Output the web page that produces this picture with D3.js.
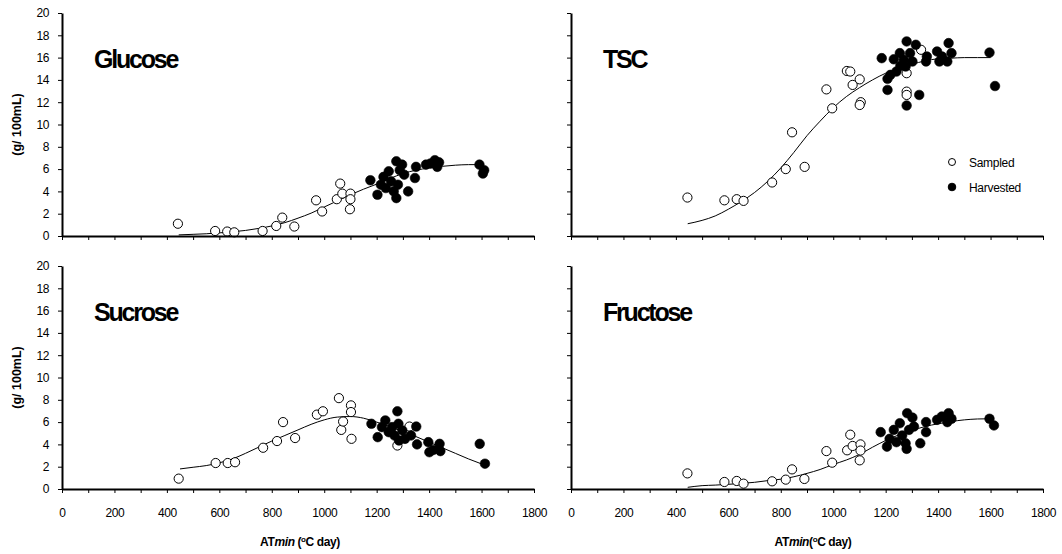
<!DOCTYPE html>
<html>
<head>
<meta charset="utf-8">
<script src="https://cdn.jsdelivr.net/npm/d3@7"></script>
<style>
  body { margin: 0; background: #fff; }
  svg { display: block; font-family: "Liberation Sans", Arial, sans-serif; }
</style>
</head>
<body>
<div id="chart"></div>
<script>
// x ticks every 100, labels every 200
var xTickValues = [0, 100, 200, 300, 400, 500, 600, 700, 800, 900, 1000, 1100, 1200, 1300, 1400, 1500, 1600, 1700, 1800];
var xTickLabels = [0, 200, 400, 600, 800, 1000, 1200, 1400, 1600, 1800];
var yTickLabels = [0, 2, 4, 6, 8, 10, 12, 14, 16, 18, 20];

var seriesNames = ["Sampled", "Harvested"];

// Glucose
var glucoseSampled = [[442, 1.1], [584, 0.45], [630, 0.4], [657, 0.33], [765, 0.45], [817, 0.9], [840, 1.65], [886, 0.85],
    [969, 3.2], [992, 2.2], [1048, 3.3], [1061, 4.7], [1069, 3.8], [1100, 3.8], [1098, 2.4], [1100, 3.3]];
var glucoseHarvested = [[1176, 5.0], [1203, 3.7], [1216, 4.6], [1226, 5.3], [1235, 4.3], [1246, 5.8], [1255, 4.9], [1265, 4.0],
    [1275, 6.7], [1275, 3.4], [1281, 4.6], [1288, 5.9], [1297, 6.4], [1305, 5.5], [1320, 4.0], [1346, 5.2], [1350, 6.2],
    [1388, 6.4], [1405, 6.5], [1422, 6.8], [1431, 6.2], [1438, 6.6], [1592, 6.4], [1605, 5.6], [1610, 5.9]];
var glucoseFit = [[445, 0.1], [500, 0.15], [550, 0.2], [600, 0.28], [650, 0.38], [700, 0.5], [750, 0.68], [800, 0.9],
    [850, 1.2], [900, 1.6], [950, 2.05], [1000, 2.6], [1050, 3.15], [1100, 3.7], [1150, 4.2], [1200, 4.65], [1250, 5.15],
    [1300, 5.6], [1350, 5.9], [1400, 6.1], [1450, 6.25], [1500, 6.35], [1550, 6.4], [1600, 6.4]];

// TSC
var tscSampled = [[444, 3.45], [585, 3.2], [632, 3.3], [658, 3.15], [767, 4.8], [819, 6.0], [843, 9.3], [891, 6.2],
    [974, 13.15], [996, 11.45], [1052, 14.8], [1065, 14.75], [1074, 13.55], [1101, 14.05], [1105, 12.0], [1101, 11.75],
    [1280, 14.6], [1280, 12.95], [1280, 12.65], [1335, 16.7]];
var tscHarvested = [[1185, 15.95], [1207, 14.1], [1207, 13.1], [1218, 14.45], [1231, 15.85], [1241, 14.75], [1254, 16.4],
    [1256, 15.25], [1269, 15.8], [1276, 15.2], [1280, 17.45], [1280, 11.7], [1293, 16.4], [1302, 15.65], [1315, 17.15],
    [1328, 12.65], [1354, 15.65], [1357, 16.1], [1396, 16.55], [1405, 15.65], [1415, 16.1], [1435, 15.65], [1440, 17.3],
    [1451, 16.4], [1596, 16.45], [1617, 13.45]];
var tscFit = [[445, 1.1], [500, 1.4], [550, 1.8], [600, 2.4], [650, 3.1], [700, 3.9], [750, 4.9], [800, 6.1], [850, 7.5],
    [900, 9.0], [950, 10.3], [1000, 11.5], [1050, 12.5], [1100, 13.3], [1150, 14.0], [1200, 14.6], [1250, 15.0],
    [1300, 15.4], [1350, 15.7], [1400, 15.9], [1450, 15.95], [1500, 16.0], [1550, 16.0], [1600, 16.0]];

// Sucrose
var sucroseSampled = [[445, 0.93], [586, 2.33], [632, 2.33], [660, 2.4], [767, 3.7], [820, 4.3], [843, 6.0], [889, 4.57],
    [972, 6.67], [995, 6.97], [1056, 8.15], [1065, 5.3], [1072, 6.05], [1102, 7.5], [1102, 6.9], [1104, 4.5],
    [1279, 3.9], [1325, 5.6]];
var sucroseHarvested = [[1180, 5.85], [1204, 4.65], [1220, 5.55], [1233, 6.15], [1246, 5.1], [1259, 5.55], [1268, 4.8],
    [1279, 6.97], [1283, 5.85], [1285, 4.35], [1298, 5.25], [1308, 4.5], [1331, 4.8], [1351, 5.6], [1354, 4.0],
    [1397, 4.2], [1401, 3.3], [1416, 3.5], [1440, 4.05], [1443, 3.4], [1593, 4.05], [1613, 2.27]];
var sucroseFit = [[450, 1.8], [500, 1.95], [550, 2.1], [600, 2.35], [650, 2.7], [700, 3.2], [750, 3.75], [800, 4.3],
    [850, 4.8], [900, 5.3], [950, 5.8], [1000, 6.2], [1050, 6.45], [1100, 6.5], [1150, 6.35], [1200, 6.0], [1250, 5.6],
    [1300, 5.15], [1350, 4.7], [1400, 4.2], [1450, 3.7], [1500, 3.2], [1550, 2.7], [1600, 2.25]];

// Fructose
var fructoseSampled = [[444, 1.4], [585, 0.63], [632, 0.72], [658, 0.48], [767, 0.69], [819, 0.84], [843, 1.76], [890, 0.9],
    [974, 3.4], [996, 2.36], [1053, 3.47], [1065, 4.87], [1074, 3.86], [1104, 4.0], [1101, 2.57], [1104, 3.45]];
var fructoseHarvested = [[1181, 5.1], [1205, 3.8], [1215, 4.5], [1231, 5.3], [1241, 4.2], [1254, 5.9], [1263, 4.8],
    [1276, 4.1], [1280, 3.6], [1282, 6.8], [1289, 5.3], [1302, 6.4], [1308, 5.6], [1332, 4.1], [1354, 6.0], [1354, 5.1],
    [1396, 6.2], [1414, 6.5], [1435, 6.0], [1440, 6.8], [1451, 6.3], [1596, 6.3], [1613, 5.7]];
var fructoseFit = [[445, 0.15], [500, 0.3], [550, 0.35], [600, 0.42], [650, 0.5], [700, 0.6], [750, 0.75], [800, 0.88],
    [850, 1.1], [900, 1.4], [950, 1.75], [1000, 2.2], [1050, 2.6], [1100, 3.1], [1150, 3.75], [1200, 4.35], [1250, 4.85],
    [1300, 5.25], [1350, 5.6], [1400, 5.85], [1450, 6.05], [1500, 6.2], [1550, 6.28], [1600, 6.3]];

var width = 1062, height = 554;

var panels = [
    { title: "Glucose", sampled: glucoseSampled, harvested: glucoseHarvested, fit: glucoseFit,
      left: 62, right: 534, top: 13, bottom: 236, showY: true, showX: false, legend: false },
    { title: "TSC", sampled: tscSampled, harvested: tscHarvested, fit: tscFit,
      left: 571, right: 1043, top: 13, bottom: 236, showY: false, showX: false, legend: true },
    { title: "Sucrose", sampled: sucroseSampled, harvested: sucroseHarvested, fit: sucroseFit,
      left: 62, right: 534, top: 266, bottom: 489, showY: true, showX: true, xTitle: "ATmin", gap: " ", legend: false },
    { title: "Fructose", sampled: fructoseSampled, harvested: fructoseHarvested, fit: fructoseFit,
      left: 571, right: 1043, top: 266, bottom: 489, showY: false, showX: true, xTitle: "ATmin", gap: "", legend: false }
];

var svg = d3.select("#chart").append("svg")
    .attr("width", width)
    .attr("height", height);

svg.append("rect").attr("width", width).attr("height", height).attr("fill", "#fff");

panels.forEach(function(p) {
    var x = d3.scaleLinear().domain([0, 1800]).range([p.left, p.right]);
    var y = d3.scaleLinear().domain([0, 20]).range([p.bottom, p.top]);
    var g = svg.append("g");

    // fitted curve
    var line = d3.line()
        .x(d => x(d[0]))
        .y(d => y(d[1]))
        .curve(d3.curveMonotoneX);

    g.append("path")
        .datum(p.fit)
        .attr("d", line)
        .attr("fill", "none")
        .attr("stroke", "#000")
        .attr("stroke-width", 1);

    // points: sampled (open) then harvested (filled)
    g.selectAll(".sampled")
        .data(p.sampled)
        .enter()
        .append("circle")
        .attr("class", "sampled")
        .attr("cx", d => x(d[0]))
        .attr("cy", d => y(d[1]))
        .attr("r", 4.6)
        .attr("fill", "#fff")
        .attr("stroke", "#000")
        .attr("stroke-width", 1);

    g.selectAll(".harvested")
        .data(p.harvested)
        .enter()
        .append("circle")
        .attr("class", "harvested")
        .attr("cx", d => x(d[0]))
        .attr("cy", d => y(d[1]))
        .attr("r", 4.8)
        .attr("fill", "#000")
        .attr("stroke", "#000")
        .attr("stroke-width", 0.6);

    // axes
    var xAxis = d3.axisBottom(x)
        .tickValues(xTickValues)
        .tickSize(4)
        .tickSizeOuter(0)
        .tickPadding(15)
        .tickFormat(d => (p.showX && xTickLabels.indexOf(d) >= 0) ? d : "");

    var yAxis = d3.axisLeft(y)
        .tickValues(yTickLabels)
        .tickSize(4)
        .tickSizeOuter(0)
        .tickPadding(9)
        .tickFormat(d => p.showY ? d : "");

    var gx = g.append("g")
        .attr("transform", "translate(0," + p.bottom + ")")
        .call(xAxis);
    var gy = g.append("g")
        .attr("transform", "translate(" + p.left + ",0)")
        .call(yAxis);

    [gx, gy].forEach(function(a) {
        a.select(".domain").attr("stroke", "#000").attr("stroke-width", 2);
        a.selectAll(".tick line").attr("stroke", "#000").attr("stroke-width", 1);
        a.selectAll(".tick text")
            .attr("fill", "#000")
            .style("font-family", "'Liberation Sans', Arial, sans-serif")
            .style("font-size", "12px")
            .style("letter-spacing", "-0.4px");
    });

    // panel title
    g.append("text")
        .attr("x", p.left + 32)
        .attr("y", p.top + 55)
        .style("font-family", "'Liberation Sans', Arial, sans-serif")
        .style("font-weight", "bold")
        .style("font-size", "25px")
        .style("letter-spacing", "-2.2px")
        .attr("fill", "#000")
        .text(p.title);

    if (p.showY) {
        g.append("text")
            .attr("transform", "translate(17," + ((p.top + p.bottom) / 2) + ") rotate(-90)")
            .attr("text-anchor", "middle")
            .attr("dy", "0.35em")
            .style("font-weight", "bold")
            .style("font-size", "12.5px")
            .attr("fill", "#000")
            .text("(g/ 100mL)");
    }

    if (p.showX) {
        var t = g.append("text")
            .attr("x", (p.left + p.right) / 2 + (p.gap ? 2 : 6))
            .attr("y", 546)
            .attr("text-anchor", "middle")
            .style("font-weight", "bold")
            .style("font-size", "12px")
            .style("letter-spacing", "-0.4px")
            .attr("fill", "#000");
        t.append("tspan").text("AT");
        t.append("tspan").style("font-style", "italic").text("min");
        t.append("tspan").text(p.gap + "(");
        t.append("tspan").attr("dy", -4).style("font-size", "8px").text("o");
        t.append("tspan").attr("dy", 4).text("C day)");
    }

    if (p.legend) {
        var lg = g.append("g");
        seriesNames.forEach(function(name, i) {
            var cy = 162 + i * 25;
            lg.append("circle")
                .attr("cx", 952)
                .attr("cy", cy)
                .attr("r", i === 0 ? 3.5 : 3.8)
                .attr("fill", i === 0 ? "#fff" : "#000")
                .attr("stroke", "#000")
                .attr("stroke-width", 1);
            lg.append("text")
                .attr("x", 969)
                .attr("y", cy + 4.5)
                .style("font-size", "12px")
                .style("letter-spacing", "-0.3px")
                .attr("fill", "#000")
                .text(name);
        });
    }
});
</script>
</body>
</html>
